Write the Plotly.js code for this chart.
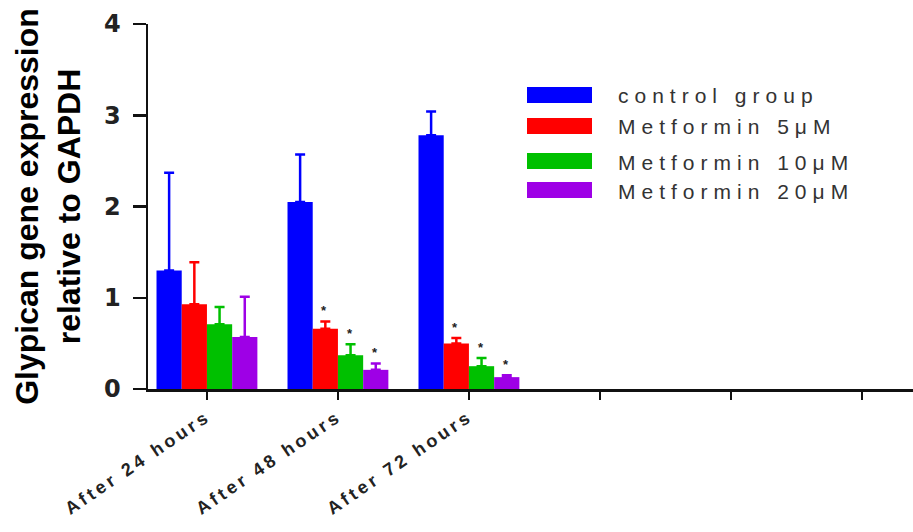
<!DOCTYPE html>
<html>
<head>
<meta charset="utf-8">
<script src="https://cdn.plot.ly/plotly-3.0.1.min.js"></script>
<style>
  html, body { margin: 0; padding: 0; background: #fff; }
  #chart { width: 913px; height: 532px; }
  .xtick text { letter-spacing: 3.5px; }
</style>
</head>
<body>
<div id="chart"></div>
<script>
// ---- data ----
const tickLabels = ['After 24 hours', 'After 48 hours', 'After 72 hours', '', '', ''];
const groupIndex = [0, 1, 2];
const seriesNames = ['control group', 'Metformin 5\u03bcM', 'Metformin 10\u03bcM', 'Metformin 20\u03bcM'];
const seriesColors = ['#0000FF', '#FF0000', '#00C000', '#9E00E6'];

const controlMean = [1.30, 2.05, 2.78];
const controlErr  = [1.07, 0.52, 0.26];
const met5Mean    = [0.93, 0.66, 0.50];
const met5Err     = [0.46, 0.08, 0.06];
const met10Mean   = [0.71, 0.37, 0.25];
const met10Err    = [0.19, 0.12, 0.09];
const met20Mean   = [0.57, 0.21, 0.13];
const met20Err    = [0.44, 0.07, 0.02];

// significance marks (1 = asterisk)
const controlSig = [0, 0, 0];
const met5Sig    = [0, 1, 1];
const met10Sig   = [0, 1, 1];
const met20Sig   = [0, 1, 1];

const means = [controlMean, met5Mean, met10Mean, met20Mean];
const errs = [controlErr, met5Err, met10Err, met20Err];
const sigs = [controlSig, met5Sig, met10Sig, met20Sig];

// ---- layout geometry ----
const W = 913, H = 532;
const M = { l: 148, r: 0, t: 24, b: 143 };
const plotW = W - M.l - M.r, plotH = H - M.t - M.b;
const bargap = 0.23;
const nSeries = seriesNames.length;
const barW = (1 - bargap) / nSeries;
const px2paperX = px => (px - M.l) / plotW;
const px2paperY = py => (H - M.b - py) / plotH;

const traces = means.map((m, j) => ({
  type: 'bar',
  name: seriesNames[j],
  x: groupIndex,
  y: m,
  marker: { color: seriesColors[j], line: { width: 0 } },
  error_y: {
    type: 'data', symmetric: false, array: errs[j],
    arrayminus: errs[j].map(() => 0),
    color: seriesColors[j], thickness: 2.5, width: 5
  },
  showlegend: false,
  hoverinfo: 'x+y+name'
}));

const annotations = [];
// asterisks
sigs.forEach((s, j) => {
  s.forEach((flag, i) => {
    if (!flag) return;
    annotations.push({
      x: groupIndex[i] + (j - (nSeries - 1) / 2) * barW,
      y: means[j][i] + errs[j][i],
      xref: 'x', yref: 'y', text: '*', showarrow: false,
      xanchor: 'center', yanchor: 'bottom', yshift: 1, xshift: -1,
      font: { family: 'Arial, Liberation Sans, sans-serif', size: 13, color: '#222', weight: 'bold' }
    });
  });
});

// manual legend
const legendRowsPx = [95, 126, 161, 190];
const shapes = [];
seriesNames.forEach((name, j) => {
  shapes.push({
    type: 'rect', xref: 'paper', yref: 'paper',
    x0: px2paperX(527), x1: px2paperX(592),
    y0: px2paperY(legendRowsPx[j] + 8), y1: px2paperY(legendRowsPx[j] - 8),
    fillcolor: seriesColors[j], line: { width: 0 }
  });
  annotations.push({
    xref: 'paper', yref: 'paper',
    x: px2paperX(616), y: px2paperY(legendRowsPx[j] + 1),
    text: '<span style="letter-spacing:6px">' + name + '</span>',
    showarrow: false, xanchor: 'left', yanchor: 'middle',
    font: { family: 'Arial, Liberation Sans, sans-serif', size: 21, color: '#333' }
  });
});

const layout = {
  width: W, height: H,
  margin: M,
  paper_bgcolor: '#fff', plot_bgcolor: '#fff',
  barmode: 'group', bargap: bargap, bargroupgap: 0,
  showlegend: false,
  xaxis: {
    range: [-0.45, 5.39],
    tickmode: 'array', tickvals: tickLabels.map((_, i) => i), ticktext: tickLabels,
    tickangle: -34,
    ticks: 'outside', ticklen: 8, tickwidth: 2.5, tickcolor: '#111',
    showline: true, linecolor: '#111', linewidth: 2.5,
    showgrid: false, zeroline: false,
    tickfont: { family: 'Arial, Liberation Sans, sans-serif', size: 18, color: '#222', weight: 'bold' }
  },
  yaxis: {
    range: [0, 4],
    tickvals: [0, 1, 2, 3, 4],
    ticks: 'outside', ticklen: 13, tickwidth: 2.5, tickcolor: '#111',
    ticklabelstandoff: 7,
    showline: true, linecolor: '#111', linewidth: 2.5,
    showgrid: false, zeroline: false,
    tickfont: { family: 'DejaVu Sans, sans-serif', size: 24, color: '#222', weight: 'bold' },
    title: {
      text: 'Glypican gene expression<br>relative to GAPDH',
      font: { family: 'Arial, Liberation Sans, sans-serif', size: 32, color: '#000', weight: 'bold' },
      standoff: 14
    }
  },
  shapes: shapes,
  annotations: annotations
};

Plotly.newPlot('chart', traces, layout, { displayModeBar: false, staticPlot: true });
</script>
</body>
</html>
